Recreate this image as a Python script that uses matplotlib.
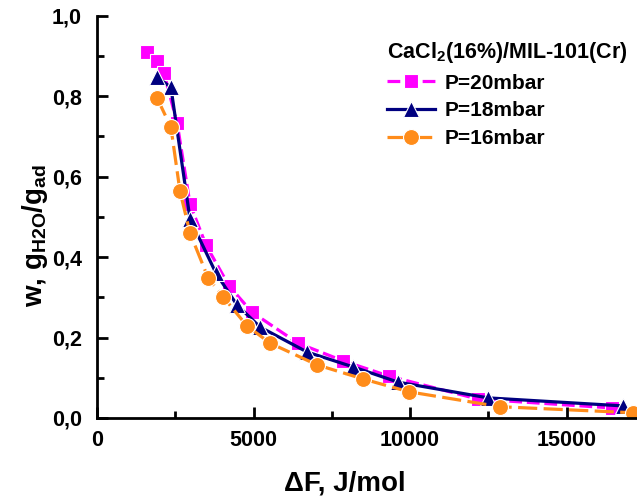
import matplotlib
matplotlib.use("Agg")
import matplotlib.pyplot as plt
from matplotlib.ticker import MultipleLocator, FuncFormatter

plt.rcParams['font.family'] = ['Liberation Sans', 'DejaVu Sans']
plt.rcParams['font.weight'] = 'bold'
plt.rcParams['mathtext.fontset'] = 'custom'
plt.rcParams['mathtext.rm'] = 'Liberation Sans:bold'
plt.rcParams['mathtext.bf'] = 'Liberation Sans:bold'
plt.rcParams['mathtext.default'] = 'bf'

# P = 20 mbar
x20 = [1600, 1920, 2140, 2560, 2970, 3480, 4220, 4950, 6420, 7860, 9330, 12170, 16450]
y20 = [0.909, 0.887, 0.857, 0.733, 0.532, 0.430, 0.328, 0.263, 0.186, 0.142, 0.104, 0.047, 0.025]
# P = 18 mbar
x18 = [1920, 2360, 2970, 3800, 4470, 5210, 6710, 8180, 9620, 12490, 16810]
y18 = [0.847, 0.822, 0.495, 0.360, 0.281, 0.226, 0.164, 0.127, 0.089, 0.050, 0.030]
# P = 16 mbar
x16 = [1920, 2360, 2650, 2970, 3550, 4030, 4790, 5530, 7030, 8500, 9970, 12880, 17120]
y16 = [0.795, 0.723, 0.564, 0.460, 0.348, 0.301, 0.229, 0.186, 0.132, 0.097, 0.065, 0.028, 0.013]

fig = plt.figure(figsize=(6.37, 5.01), dpi=100)
ax = fig.add_axes([0.1523, 0.1657, 0.8477, 0.803])

ax.plot(x20, y20, color='#ff00ff', lw=2.3, dashes=(4, 1.5), marker='s', ms=9.5,
        mec='white', mew=0.8, label='P=20mbar')
ax.plot(x18, y18, color='#000080', lw=2.3, marker='^', ms=12,
        mec='white', mew=0.8, label='P=18mbar')
ax.plot(x16, y16, color='#ff8c1a', lw=2.3, dashes=(6, 2), marker='o', ms=11.5,
        mec='white', mew=0.8, label='P=16mbar')

ax.set_xlim(0, 17250)
ax.set_ylim(0, 1.0)
ax.xaxis.set_major_locator(MultipleLocator(5000))
ax.xaxis.set_minor_locator(MultipleLocator(2500))
ax.yaxis.set_major_locator(MultipleLocator(0.2))
ax.yaxis.set_minor_locator(MultipleLocator(0.1))
ax.yaxis.set_major_formatter(FuncFormatter(lambda v, p: f"{v:.1f}".replace('.', ',')))

for s in ['top', 'right']:
    ax.spines[s].set_visible(False)
for s in ['left', 'bottom']:
    ax.spines[s].set_linewidth(2)

ax.tick_params(which='major', direction='in', length=8, width=2, labelsize=15.5)
ax.tick_params(axis='x', which='major', pad=9)
ax.tick_params(axis='y', which='major', pad=11)
ax.tick_params(which='minor', direction='in', length=5, width=2)

ax.set_xlabel('ΔF, J/mol', fontsize=20, fontweight='bold')
ax.set_ylabel(r'w, g$_{H2O}$/g$_{ad}$', fontsize=20, fontweight='bold')
ax.xaxis.set_label_coords(0.459, -0.13)
ax.yaxis.set_label_coords(-0.087, 0.454)

leg = ax.legend(loc='upper left', bbox_to_anchor=(0.537, 0.94), frameon=False,
                title=r'CaCl$_2$(16%)/MIL-101(Cr)', title_fontsize=15.5,
                fontsize=15, handlelength=2.3, handletextpad=0.45,
                labelspacing=0.42, alignment='left', borderaxespad=0, borderpad=0)
leg.get_title().set_fontweight('bold')

fig.savefig('out.png', dpi=100)
